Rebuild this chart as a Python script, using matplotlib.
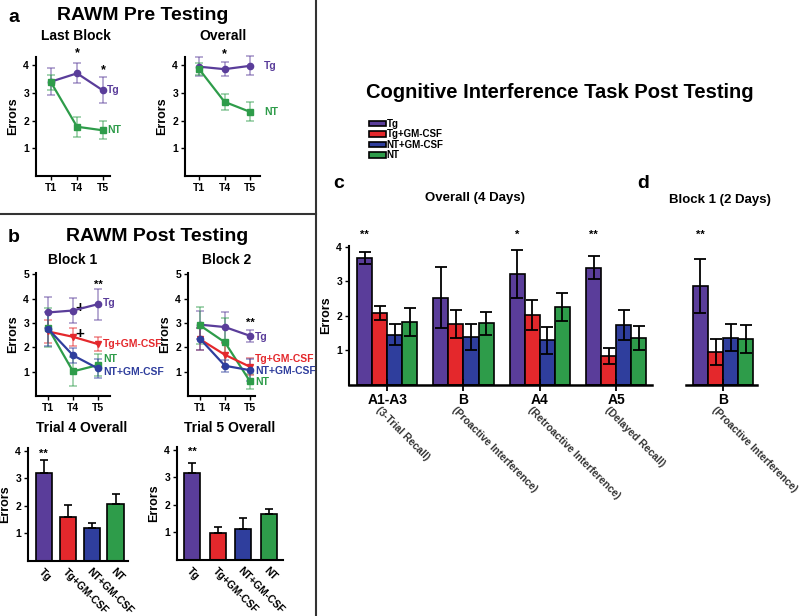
import matplotlib
matplotlib.use('Agg')
import matplotlib.pyplot as plt
from matplotlib.lines import Line2D
from matplotlib.colors import to_rgba
import numpy as np

plt.rcParams['font.family'] = ['Liberation Sans', 'DejaVu Sans']
plt.rcParams['font.weight'] = 'bold'
plt.rcParams['axes.labelweight'] = 'bold'

# ---------------- data ----------------
trials = ['T1', 'T4', 'T5']
groups = ['Tg', 'Tg+GM-CSF', 'NT+GM-CSF', 'NT']

# Panel a: RAWM pre testing
pre_last_tg = [3.41, 3.71, 3.09]
pre_last_tg_err = [0.50, 0.36, 0.47]
pre_last_nt = [3.38, 1.78, 1.65]
pre_last_nt_err = [0.27, 0.36, 0.33]
pre_all_tg = [3.95, 3.86, 3.98]
pre_all_tg_err = [0.34, 0.25, 0.34]
pre_all_nt = [3.86, 2.68, 2.32]
pre_all_nt_err = [0.22, 0.29, 0.34]

# Panel b: RAWM post testing, block 1
b1_tg = [3.43, 3.51, 3.77]
b1_tg_err = [0.65, 0.50, 0.63]
b1_tgg = [2.65, 2.43, 2.13]
b1_tgg_err = [0.48, 0.37, 0.30]
b1_ntg = [2.76, 1.67, 1.13]
b1_ntg_err = [0.70, 0.30, 0.40]
b1_nt = [2.80, 1.01, 1.27]
b1_nt_err = [0.80, 0.60, 0.45]

# Panel b: block 2
b2_tg = [2.93, 2.83, 2.47]
b2_tg_err = [0.58, 0.60, 0.25]
b2_tgg = [2.33, 1.69, 1.20]
b2_tgg_err = [0.45, 0.50, 0.35]
b2_ntg = [2.35, 1.24, 1.06]
b2_ntg_err = [0.45, 0.25, 0.45]
b2_nt = [2.90, 2.20, 0.60]
b2_nt_err = [0.75, 1.00, 0.30]

# Panel b: overall bars
t4_means = [3.21, 1.60, 1.20, 2.08]
t4_err = [0.46, 0.45, 0.18, 0.34]
t5_means = [3.16, 0.97, 1.12, 1.68]
t5_err = [0.37, 0.22, 0.42, 0.18]

# Panel c: cognitive interference task overall (4 days)
cit_labels = ['A1-A3', 'B', 'A4', 'A5']
cit_sub = ['(3-Trial Recall)', '(Proactive Interference)',
           '(Retroactive Interference)', '(Delayed Recall)']
cit_tg = [3.67, 2.53, 3.20, 3.39]
cit_tg_err = [0.18, 0.87, 0.69, 0.33]
cit_tgg = [2.08, 1.76, 2.03, 0.84]
cit_tgg_err = [0.20, 0.40, 0.43, 0.24]
cit_ntg = [1.46, 1.39, 1.29, 1.74]
cit_ntg_err = [0.30, 0.37, 0.38, 0.43]
cit_nt = [1.83, 1.79, 2.26, 1.37]
cit_nt_err = [0.40, 0.33, 0.40, 0.35]

# Panel d: block 1 (2 days)
blk_labels = ['B']
blk_sub = ['(Proactive Interference)']
blk_tg = [2.85]
blk_tg_err = [0.78]
blk_tgg = [0.96]
blk_tgg_err = [0.38]
blk_ntg = [1.36]
blk_ntg_err = [0.39]
blk_nt = [1.33]
blk_nt_err = [0.40]

# ---------------- styling ----------------
C_TG = '#5a3d9a'
C_TGG = '#e4282c'
C_NTG = '#2f3e9d'
C_NT = '#2e9c4a'
colors = [C_TG, C_TGG, C_NTG, C_NT]

W, H = 800, 616
fig = plt.figure(figsize=(8, 6.16), dpi=100)


def ax_px(x0, y0, x1, y1):
    return fig.add_axes([x0 / W, 1 - y1 / H, (x1 - x0) / W, (y1 - y0) / H])


def ftext(x, y, s, **kw):
    kw.setdefault('ha', 'center')
    kw.setdefault('va', 'center')
    fig.text(x / W, 1 - y / H, s, **kw)


def style(ax, left=True):
    for s in ['top', 'right']:
        ax.spines[s].set_visible(False)
    ax.spines['left'].set_visible(left)
    for s in ['left', 'bottom']:
        ax.spines[s].set_linewidth(1.5)
    ax.tick_params(labelsize=7.5, length=3, width=1, pad=2)


def line_panel(ax, series, ylim, yticks, xlim):
    x = np.arange(1, 4)
    for vals, errs, color, marker in series:
        ax.errorbar(x, vals, yerr=errs, color=color, marker=marker, ms=4.5,
                    lw=1.6, ecolor=to_rgba(color, 0.5), elinewidth=1.2,
                    capsize=3, capthick=1.2, clip_on=False, zorder=3)
    ax.set_xlim(*xlim)
    ax.set_ylim(*ylim)
    ax.set_yticks(yticks)
    ax.set_xticks(x)
    ax.set_xticklabels(trials)
    ax.set_ylabel('Errors', fontsize=9, labelpad=3)
    style(ax)


# ---------------- panel a ----------------
ax = ax_px(36, 57, 110, 176)
line_panel(ax, [(pre_last_tg, pre_last_tg_err, C_TG, 'o'),
                (pre_last_nt, pre_last_nt_err, C_NT, 's')],
           (0, 4.3), [1, 2, 3, 4], (0.42, 3.27))
ax.text(2, 4.43, '*', ha='center', va='center', fontsize=9, clip_on=False)
ax.text(3, 3.82, '*', ha='center', va='center', fontsize=9, clip_on=False)
ax.text(3.15, 3.1, 'Tg', color=C_TG, fontsize=7.5, va='center', clip_on=False)
ax.text(3.15, 1.65, 'NT', color=C_NT, fontsize=7.5, va='center', clip_on=False)

ax = ax_px(185, 57, 260, 176)
line_panel(ax, [(pre_all_tg, pre_all_tg_err, C_TG, 'o'),
                (pre_all_nt, pre_all_nt_err, C_NT, 's')],
           (0, 4.3), [1, 2, 3, 4], (0.44, 3.4))
ax.text(2, 4.4, '*', ha='center', va='center', fontsize=9, clip_on=False)
ax.text(3.55, 3.98, 'Tg', color=C_TG, fontsize=7.5, va='center', clip_on=False)
ax.text(3.55, 2.3, 'NT', color=C_NT, fontsize=7.5, va='center', clip_on=False)

# ---------------- panel b lines ----------------
ax = ax_px(36, 273, 110, 396)
line_panel(ax, [(b1_tg, b1_tg_err, C_TG, 'o'),
                (b1_tgg, b1_tgg_err, C_TGG, 'v'),
                (b1_nt, b1_nt_err, C_NT, 's'),
                (b1_ntg, b1_ntg_err, C_NTG, 'o')],
           (0, 5.05), [1, 2, 3, 4, 5], (0.52, 3.48))
ax.text(3, 4.57, '**', ha='center', va='center', fontsize=8, clip_on=False)
ax.text(2.28, 3.62, '+', ha='center', va='center', fontsize=11, clip_on=False)
ax.text(2.28, 2.56, '+', ha='center', va='center', fontsize=11, clip_on=False)
ax.text(3.2, 3.83, 'Tg', color=C_TG, fontsize=7.5, va='center', clip_on=False)
ax.text(3.2, 2.15, 'Tg+GM-CSF', color=C_TGG, fontsize=7.5, va='center', clip_on=False)
ax.text(3.2, 1.53, 'NT', color=C_NT, fontsize=7.5, va='center', clip_on=False)
ax.text(3.2, 1.0, 'NT+GM-CSF', color=C_NTG, fontsize=7.5, va='center', clip_on=False)

ax = ax_px(188, 273, 255, 396)
line_panel(ax, [(b2_tg, b2_tg_err, C_TG, 'o'),
                (b2_nt, b2_nt_err, C_NT, 's'),
                (b2_tgg, b2_tgg_err, C_TGG, 'v'),
                (b2_ntg, b2_ntg_err, C_NTG, 'o')],
           (0, 5.05), [1, 2, 3, 4, 5], (0.52, 3.2))
ax.text(3, 3.0, '**', ha='center', va='center', fontsize=8, clip_on=False)
ax.text(3.2, 2.43, 'Tg', color=C_TG, fontsize=7.5, va='center', clip_on=False)
ax.text(3.2, 1.53, 'Tg+GM-CSF', color=C_TGG, fontsize=7.5, va='center', clip_on=False)
ax.text(3.2, 1.04, 'NT+GM-CSF', color=C_NTG, fontsize=7.5, va='center', clip_on=False)
ax.text(3.2, 0.59, 'NT', color=C_NT, fontsize=7.5, va='center', clip_on=False)


# ---------------- panel b bars ----------------
def bar_panel(ax, means, errs, xlim, width, star_y):
    x = np.arange(len(means))
    ax.bar(x, means, width=width, color=colors, edgecolor='black', lw=1.2,
           yerr=[np.zeros(len(errs)), errs],
           error_kw=dict(ecolor='black', elinewidth=1.2, capsize=3, capthick=1.2))
    ax.set_xlim(*xlim)
    ax.set_ylim(0, 4.1)
    ax.set_yticks([1, 2, 3, 4])
    ax.set_xticks(x)
    ax.set_xticklabels(groups, rotation=-45, ha='left', va='top',
                       rotation_mode='anchor', fontsize=7.5)
    ax.set_ylabel('Errors', fontsize=9, labelpad=3)
    style(ax)
    ax.tick_params(axis='x', length=0, pad=4)
    ax.text(0, star_y, '**', ha='center', va='center', fontsize=8, clip_on=False)


ax = ax_px(28, 448, 128, 561)
bar_panel(ax, t4_means, t4_err, (-0.65, 3.52), 0.67, 3.88)
ax = ax_px(177, 447, 283, 560)
bar_panel(ax, t5_means, t5_err, (-0.58, 3.54), 0.62, 3.92)

# ---------------- panel c / d ----------------
bw = 0.197
offs = np.array([-1.5, -0.5, 0.5, 1.5]) * bw


def cit_panel(ax, labels, subs, series, xlim, left=True):
    x = np.arange(len(labels))
    handles = []
    for k, (vals, errs) in enumerate(series):
        h = ax.bar(x + offs[k], vals, width=bw, color=colors[k], edgecolor='black',
                   lw=1.2, yerr=errs, label=groups[k],
                   error_kw=dict(ecolor='black', elinewidth=1.3, capsize=4, capthick=1.3))
        handles.append(h)
    ax.set_xlim(*xlim)
    ax.set_ylim(0, 4.02)
    for s in ['top', 'right']:
        ax.spines[s].set_visible(False)
    ax.spines['left'].set_visible(left)
    ax.spines['left'].set_linewidth(1.5)
    ax.spines['bottom'].set_linewidth(1.8)
    if left:
        ax.set_yticks([1, 2, 3, 4])
        ax.set_ylabel('Errors', fontsize=9, labelpad=3)
        ax.tick_params(axis='y', labelsize=7.5, length=3, width=1, pad=2)
    else:
        ax.set_yticks([])
    ax.set_xticks(x)
    ax.set_xticklabels(labels, fontsize=10)
    ax.tick_params(axis='x', direction='inout', length=9, width=1.3, pad=1)
    for i, s in enumerate(subs):
        ax.annotate(s, xy=(i, 0), xycoords=('data', 'axes fraction'),
                    xytext=(-4.5, -14), textcoords='offset points',
                    rotation=-45, rotation_mode='anchor', ha='left', va='top',
                    fontsize=7.5, color='#333333', annotation_clip=False)
    return handles


ax = ax_px(349, 246, 652, 385)
handles = cit_panel(ax, cit_labels, cit_sub,
                    [(cit_tg, cit_tg_err), (cit_tgg, cit_tgg_err),
                     (cit_ntg, cit_ntg_err), (cit_nt, cit_nt_err)],
                    (-0.50, 3.47))
for i, s in [(0, '**'), (2, '*'), (3, '**')]:
    ax.text(i + offs[0], 4.35, s, ha='center', va='center', fontsize=8, clip_on=False)

ax = ax_px(686, 246, 757, 385)
cit_panel(ax, blk_labels, blk_sub,
          [(blk_tg, blk_tg_err), (blk_tgg, blk_tgg_err),
           (blk_ntg, blk_ntg_err), (blk_nt, blk_nt_err)],
          (-0.485, 0.445), left=False)
ax.text(offs[0], 4.35, '**', ha='center', va='center', fontsize=8, clip_on=False)

fig.legend(handles=handles, labels=groups, loc='upper left',
           bbox_to_anchor=(369 / W, 1 - 119 / H), frameon=False, fontsize=7,
           handlelength=1.7, handleheight=0.55, handletextpad=0.1,
           labelspacing=0.05, borderpad=0, borderaxespad=0)

# ---------------- titles / panel letters ----------------
ftext(8, 17, 'a', fontsize=14, ha='left')
ftext(143, 15, 'RAWM Pre Testing', fontsize=14)
ftext(76, 36, 'Last Block', fontsize=10)
ftext(223, 36, 'Overall', fontsize=10)

ftext(8, 238, 'b', fontsize=14, ha='left')
ftext(157, 236, 'RAWM Post Testing', fontsize=14)
ftext(73, 260, 'Block 1', fontsize=10)
ftext(227, 260, 'Block 2', fontsize=10)
ftext(82, 428, 'Trial 4 Overall', fontsize=10)
ftext(230, 428, 'Trial 5 Overall', fontsize=10)

ftext(560, 93, 'Cognitive Interference Task Post Testing', fontsize=14.5)
ftext(333, 183, 'c', fontsize=14, ha='left')
ftext(475, 198, 'Overall (4 Days)', fontsize=9.5)
ftext(637, 183, 'd', fontsize=14, ha='left')
ftext(720, 200, 'Block 1 (2 Days)', fontsize=9.5)

# separators
fig.add_artist(Line2D([316 / W, 316 / W], [0, 1], color='#333333', lw=1.5,
                      transform=fig.transFigure))
fig.add_artist(Line2D([0, 316 / W], [1 - 214 / H, 1 - 214 / H], color='#333333',
                      lw=1.5, transform=fig.transFigure))

fig.savefig('out.png', dpi=100)
